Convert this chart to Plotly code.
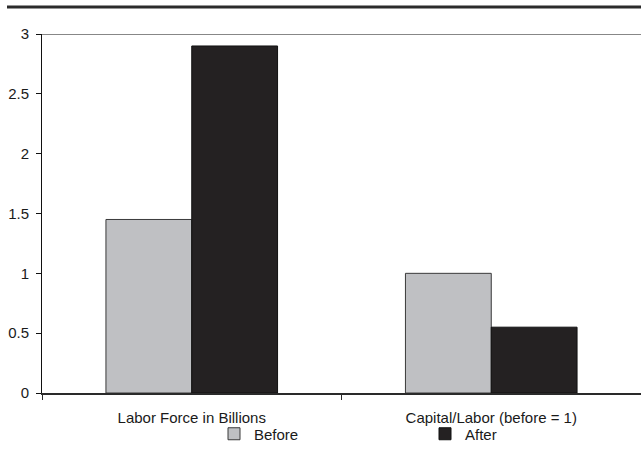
import plotly.graph_objects as go

categories = ["Labor Force in Billions", "Capital/Labor (before = 1)"]
before_values = [1.45, 1.0]
after_values = [2.9, 0.55]
y_ticks = [0, 0.5, 1, 1.5, 2, 2.5, 3]
y_tick_labels = ["0", "0.5", "1", "1.5", "2", "2.5", "3"]

FONT = "Liberation Sans, Arial, sans-serif"
FS = 15

fig = go.Figure()
fig.add_trace(go.Bar(
    name="Before", x=categories, y=before_values, legend="legend",
    marker=dict(color="#bfc0c3", line=dict(color="#3a3a3a", width=1)),
))
fig.add_trace(go.Bar(
    name="After", x=categories, y=after_values, legend="legend2",
    marker=dict(color="#242122", line=dict(color="#111111", width=1)),
))

leg_common = dict(orientation="h", yanchor="middle", xanchor="left",
                  itemwidth=30, font=dict(size=FS, family=FONT, color="#1a1a1a"),
                  bgcolor="rgba(0,0,0,0)", borderwidth=0)

fig.update_layout(
    width=641, height=457,
    margin=dict(l=42, r=0, t=34, b=64),
    paper_bgcolor="white", plot_bgcolor="white",
    font=dict(family=FONT, size=FS, color="#1a1a1a"),
    barmode="group", bargap=0.427, bargroupgap=0,
    showlegend=True,
    legend=dict(x=(234 - 20 - 42) / 599, y=-41 / 359, **leg_common),
    legend2=dict(x=(445 - 20 - 42) / 599, y=-41 / 359, **leg_common),
    xaxis=dict(
        showline=True, linecolor="#2a2a2a", linewidth=1.5,
        ticks="outside", tickson="boundaries", ticklen=5, tickcolor="#2a2a2a",
        showgrid=False, ticklabelstandoff=10,
        tickfont=dict(size=FS, family=FONT, color="#1a1a1a"),
    ),
    yaxis=dict(
        range=[0, 3], tickvals=y_ticks, ticktext=y_tick_labels,
        showline=True, linecolor="#111111", linewidth=1,
        ticks="outside", ticklen=5, tickcolor="#111111",
        showgrid=False, zeroline=False, ticklabelstandoff=4,
        tickfont=dict(size=FS, family=FONT, color="#1a1a1a"),
    ),
    shapes=[
        dict(type="line", xref="paper", yref="paper",
             x0=(7 - 42) / 599, x1=1.0, y0=1 + 27 / 359, y1=1 + 27 / 359,
             line=dict(color="#2b2b2b", width=3)),
        dict(type="line", xref="paper", yref="y",
             x0=0, x1=1, y0=3, y1=3,
             line=dict(color="#111111", width=1)),
    ],
)

fig.write_html("out.html")
